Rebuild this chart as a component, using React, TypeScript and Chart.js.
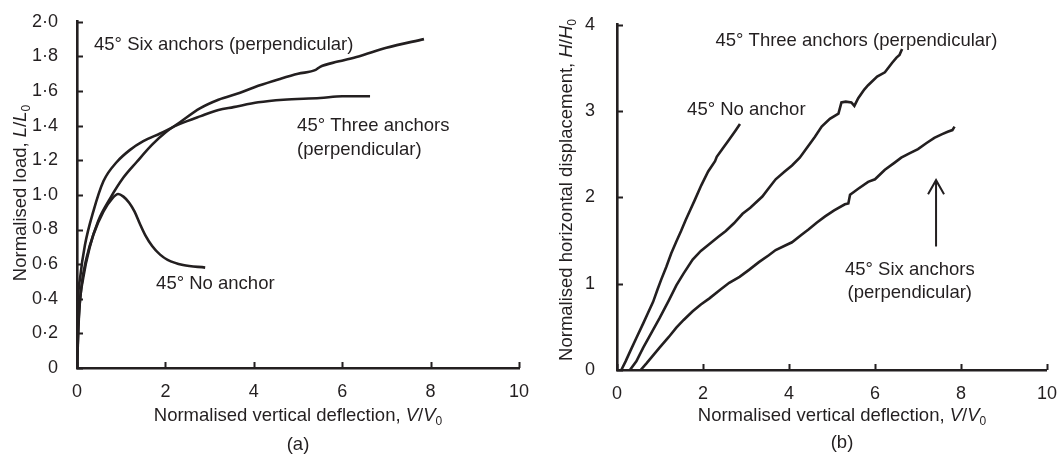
import React, { useEffect, useRef } from 'react';
import { Chart, registerables } from 'chart.js';

Chart.register(...registerables);

const INK = '#231f20';
const FONT = "'Liberation Sans', Arial, Helvetica, sans-serif";
const LABEL_SIZE = 18.5;
const TICK_SIZE = 18;

// ---------- Panel (a): normalised load vs normalised vertical deflection ----------
const loadXTicks = [0, 2, 4, 6, 8, 10];
const loadYTicks = [0, 0.2, 0.4, 0.6, 0.8, 1.0, 1.2, 1.4, 1.6, 1.8, 2.0];

const noAnchorLoad: [number, number][] = [
  [0, 0], [0.03, 0.24], [0.1, 0.47], [0.22, 0.64], [0.37, 0.77], [0.6, 0.905],
  [0.8, 0.98], [0.93, 1.005], [1.05, 0.99], [1.18, 0.955], [1.3, 0.905], [1.42, 0.835],
  [1.55, 0.765], [1.7, 0.705], [1.88, 0.655], [2.05, 0.625], [2.4, 0.595], [2.9, 0.58],
];
const threeAnchorsLoad: [number, number][] = [
  [0, 0], [0.01, 0.27], [0.07, 0.52], [0.18, 0.71], [0.37, 0.905], [0.6, 1.08],
  [0.9, 1.19], [1.2, 1.26], [1.5, 1.31], [1.88, 1.355], [2.33, 1.41], [2.8, 1.455],
  [3.2, 1.49], [3.54, 1.507], [4.1, 1.535], [4.67, 1.55], [5.5, 1.56], [6.0, 1.57], [6.63, 1.57],
];
const sixAnchorsLoad: [number, number][] = [
  [0, 0], [0.05, 0.33], [0.14, 0.52], [0.29, 0.7], [0.48, 0.85], [0.75, 0.98],
  [1.05, 1.1], [1.35, 1.19], [1.7, 1.29], [2.0, 1.36], [2.33, 1.42], [2.78, 1.5],
  [3.2, 1.55], [3.69, 1.59], [4.1, 1.63], [4.59, 1.67], [5.0, 1.7], [5.4, 1.722],
  [5.5, 1.74], [5.9, 1.77], [6.37, 1.8], [7.0, 1.85], [7.85, 1.9],
];

// ---------- Panel (b): normalised horizontal displacement vs vertical deflection ----------
const dispXTicks = [0, 2, 4, 6, 8, 10];
const dispYTicks = [0, 1, 2, 3, 4];

const noAnchorDisp: [number, number][] = [
  [0.1, 0], [0.2, 0.1], [0.3, 0.21], [0.45, 0.37], [0.61, 0.54], [0.72, 0.66],
  [0.84, 0.79], [0.94, 0.93], [1.03, 1.05], [1.15, 1.2], [1.26, 1.35], [1.38, 1.49],
  [1.49, 1.61], [1.6, 1.74], [1.69, 1.84], [1.8, 1.96], [1.96, 2.14], [2.12, 2.3],
  [2.28, 2.42], [2.32, 2.47], [2.45, 2.56], [2.61, 2.67], [2.75, 2.77], [2.86, 2.85],
];
const threeAnchorsDisp: [number, number][] = [
  [0.3, 0], [0.45, 0.1], [0.61, 0.26], [0.8, 0.43], [0.99, 0.6], [1.2, 0.8],
  [1.38, 0.98], [1.55, 1.12], [1.76, 1.28], [1.95, 1.38], [2.15, 1.46], [2.35, 1.54],
  [2.53, 1.61], [2.72, 1.7], [2.92, 1.81], [3.1, 1.88], [3.38, 2.01], [3.55, 2.12],
  [3.69, 2.21], [3.9, 2.3], [4.07, 2.37], [4.25, 2.46], [4.38, 2.55], [4.6, 2.7],
  [4.76, 2.82], [4.95, 2.91], [5.15, 2.97], [5.22, 3.1], [5.32, 3.11], [5.45, 3.1],
  [5.52, 3.06], [5.61, 3.15], [5.75, 3.25], [5.84, 3.3], [6.05, 3.4], [6.23, 3.45],
  [6.4, 3.56], [6.5, 3.62], [6.57, 3.65], [6.63, 3.72],
];
const sixAnchorsDisp: [number, number][] = [
  [0.55, 0], [0.69, 0.08], [0.84, 0.17], [0.99, 0.26], [1.2, 0.38], [1.38, 0.49],
  [1.55, 0.58], [1.76, 0.68], [1.95, 0.76], [2.15, 0.83], [2.4, 0.93], [2.61, 1.01],
  [2.85, 1.08], [3.07, 1.16], [3.3, 1.25], [3.53, 1.33], [3.69, 1.39], [3.9, 1.44],
  [4.07, 1.48], [4.3, 1.57], [4.46, 1.63], [4.65, 1.71], [4.84, 1.78], [5.05, 1.85],
  [5.3, 1.92], [5.38, 1.93], [5.42, 2.03], [5.5, 2.06], [5.61, 2.1], [5.84, 2.18],
  [6.0, 2.21], [6.23, 2.32], [6.45, 2.4], [6.61, 2.46], [6.8, 2.51], [7.0, 2.56],
  [7.2, 2.63], [7.38, 2.69], [7.55, 2.73], [7.69, 2.76], [7.8, 2.78], [7.85, 2.82],
];

type Part = { t: string; i?: boolean; sub?: boolean };
type Label = { x: number; y: number; lines: string[]; align: 'left' | 'center'; gap?: number };
type Arrow = { x: number; y0: number; y1: number };

interface PanelSpec {
  left: number;
  width: number;
  area: { left: number; top: number; right: number; bottom: number };
  xTicks: number[];
  yTicks: number[];
  yMax: number;
  fmtY: (v: number) => string;
  yTickPad: number;
  series: [number, number][][];
  smooth: boolean;
  labels: Label[];
  arrows: Arrow[];
  xTitle: Part[];
  yTitle: Part[];
  xTitlePos: [number, number];
  yTitlePos: [number, number];
  caption: string;
  captionPos: [number, number];
}

function drawRich(ctx: CanvasRenderingContext2D, parts: Part[], cx: number, cy: number, size: number, rotate: boolean) {
  ctx.save();
  ctx.translate(cx, cy);
  if (rotate) ctx.rotate(-Math.PI / 2);
  const fontFor = (p: Part) => `${p.i ? 'italic ' : ''}${p.sub ? Math.round(size * 0.66) : size}px ${FONT}`;
  let total = 0;
  const widths = parts.map((p) => {
    ctx.font = fontFor(p);
    const w = ctx.measureText(p.t).width;
    total += w;
    return w;
  });
  let x = -total / 2;
  ctx.textBaseline = 'middle';
  ctx.textAlign = 'left';
  ctx.fillStyle = INK;
  parts.forEach((p, k) => {
    ctx.font = fontFor(p);
    ctx.fillText(p.t, x, p.sub ? size * 0.32 : 0);
    x += widths[k];
  });
  ctx.restore();
}

function makePlugin(spec: PanelSpec) {
  return {
    id: 'panelDecor',
    afterDraw(chart: any) {
      const { ctx, chartArea } = chart;
      const xs = chart.scales.x;
      const ys = chart.scales.y;
      ctx.save();
      ctx.strokeStyle = INK;
      ctx.lineWidth = 2;
      ctx.beginPath();
      xs.ticks.forEach((t: any) => {
        const px = Math.round(xs.getPixelForValue(t.value)) + 0.5;
        ctx.moveTo(px, chartArea.bottom);
        ctx.lineTo(px, chartArea.bottom - 6);
      });
      ys.ticks.forEach((t: any) => {
        const py = Math.round(ys.getPixelForValue(t.value)) + 0.5;
        ctx.moveTo(chartArea.left, py);
        ctx.lineTo(chartArea.left + 6, py);
      });
      ctx.stroke();

      // annotations
      ctx.fillStyle = INK;
      ctx.font = `${LABEL_SIZE}px ${FONT}`;
      ctx.textBaseline = 'middle';
      spec.labels.forEach((l) => {
        ctx.textAlign = l.align;
        const px = xs.getPixelForValue(l.x);
        const py = ys.getPixelForValue(l.y);
        l.lines.forEach((s, k) => ctx.fillText(s, px, py + k * (l.gap || 24)));
      });

      // arrows
      ctx.lineWidth = 2;
      spec.arrows.forEach((a) => {
        const px = xs.getPixelForValue(a.x);
        const p0 = ys.getPixelForValue(a.y0);
        const p1 = ys.getPixelForValue(a.y1);
        ctx.beginPath();
        ctx.moveTo(px, p0);
        ctx.lineTo(px, p1);
        ctx.moveTo(px - 8, p1 + 14);
        ctx.lineTo(px, p1);
        ctx.lineTo(px + 8, p1 + 14);
        ctx.stroke();
      });

      drawRich(ctx, spec.xTitle, spec.xTitlePos[0], spec.xTitlePos[1], LABEL_SIZE, false);
      drawRich(ctx, spec.yTitle, spec.yTitlePos[0], spec.yTitlePos[1], LABEL_SIZE, true);
      drawRich(ctx, [{ t: spec.caption }], spec.captionPos[0], spec.captionPos[1], LABEL_SIZE, false);
      ctx.restore();
    },
  };
}

function Panel({ spec }: { spec: PanelSpec }) {
  const ref = useRef<HTMLCanvasElement>(null);
  useEffect(() => {
    const canvas = ref.current!;
    const H = 459;
    const { area } = spec;
    const chart = new Chart(canvas, {
      type: 'line',
      data: {
        datasets: spec.series.map((s) => ({
          data: s.map(([x, y]) => ({ x, y })),
          borderColor: INK,
          borderWidth: 2.6,
          pointRadius: 0,
          fill: false,
          tension: spec.smooth ? 0.4 : 0,
          cubicInterpolationMode: spec.smooth ? ('monotone' as const) : ('default' as const),
        })),
      },
      options: {
        responsive: false,
        animation: false,
        events: [],
        layout: { padding: { left: 0, top: area.top, right: spec.width - area.right, bottom: 0 } },
        plugins: { legend: { display: false }, tooltip: { enabled: false }, title: { display: false } },
        scales: {
          x: {
            type: 'linear',
            min: 0,
            max: 10,
            afterBuildTicks: (s: any) => {
              s.ticks = spec.xTicks.map((v) => ({ value: v }));
            },
            afterFit: (s: any) => {
              s.height = H - area.bottom;
            },
            grid: { display: false },
            border: { display: true, color: INK, width: 2.6 },
            ticks: {
              color: INK,
              font: { family: FONT, size: TICK_SIZE },
              padding: 5,
              maxRotation: 0,
              autoSkip: false,
              callback: (v: any) => String(v),
            },
          },
          y: {
            type: 'linear',
            min: 0,
            max: spec.yMax,
            afterBuildTicks: (s: any) => {
              s.ticks = spec.yTicks.map((v) => ({ value: v }));
            },
            afterFit: (s: any) => {
              s.width = area.left;
            },
            grid: { display: false },
            border: { display: true, color: INK, width: 2.6 },
            ticks: {
              color: INK,
              font: { family: FONT, size: TICK_SIZE },
              padding: spec.yTickPad,
              autoSkip: false,
              callback: (v: any) => spec.fmtY(Number(v)),
            },
          },
        },
      },
      plugins: [makePlugin(spec)],
    } as any);
    return () => chart.destroy();
  }, [spec]);
  return (
    <canvas
      ref={ref}
      width={spec.width}
      height={459}
      style={{ position: 'absolute', left: spec.left, top: 0, width: spec.width, height: 459 }}
    />
  );
}

const fmtLoad = (v: number) => (v === 0 ? '0' : v.toFixed(1).replace('.', '\u00b7'));
const fmtInt = (v: number) => String(Math.round(v));

const panelA: PanelSpec = {
  left: 0,
  width: 540,
  area: { left: 77, top: 19, right: 519, bottom: 368 },
  xTicks: loadXTicks,
  yTicks: loadYTicks,
  yMax: 2,
  fmtY: fmtLoad,
  yTickPad: 11,
  series: [noAnchorLoad, threeAnchorsLoad, sixAnchorsLoad],
  smooth: true,
  labels: [
    { x: 0.385, y: 1.868, lines: ['45° Six anchors (perpendicular)'], align: 'left' },
    { x: 4.98, y: 1.4, lines: ['45° Three anchors', '(perpendicular)'], align: 'left', gap: 24 },
    { x: 1.79, y: 0.487, lines: ['45° No anchor'], align: 'left' },
  ],
  arrows: [],
  xTitle: [{ t: 'Normalised vertical deflection, ' }, { t: 'V', i: true }, { t: '/' }, { t: 'V', i: true }, { t: '0', sub: true }],
  yTitle: [{ t: 'Normalised load, ' }, { t: 'L', i: true }, { t: '/' }, { t: 'L', i: true }, { t: '0', sub: true }],
  xTitlePos: [298, 416],
  yTitlePos: [21, 193],
  caption: '(a)',
  captionPos: [298, 445],
};

const panelB: PanelSpec = {
  left: 540,
  width: 522,
  area: { left: 77, top: 15, right: 510, bottom: 370 },
  xTicks: dispXTicks,
  yTicks: dispYTicks,
  yMax: 4,
  fmtY: fmtInt,
  yTickPad: 14,
  series: [noAnchorDisp, threeAnchorsDisp, sixAnchorsDisp],
  smooth: false,
  labels: [
    { x: 2.29, y: 3.81, lines: ['45° Three anchors (perpendicular)'], align: 'left' },
    { x: 1.63, y: 3.01, lines: ['45° No anchor'], align: 'left' },
    { x: 6.81, y: 1.16, lines: ['45° Six anchors', '(perpendicular)'], align: 'center', gap: 23 },
  ],
  arrows: [{ x: 7.42, y0: 1.43, y1: 2.2 }],
  xTitle: [{ t: 'Normalised vertical deflection, ' }, { t: 'V', i: true }, { t: '/' }, { t: 'V', i: true }, { t: '0', sub: true }],
  yTitle: [{ t: 'Normalised horizontal displacement, ' }, { t: 'H', i: true }, { t: '/' }, { t: 'H', i: true }, { t: '0', sub: true }],
  xTitlePos: [302, 416],
  yTitlePos: [27, 190],
  caption: '(b)',
  captionPos: [302, 443],
};

export default function App() {
  return (
    <div style={{ position: 'fixed', left: 0, top: 0, width: 1062, height: 459, background: '#ffffff' }}>
      <Panel spec={panelA} />
      <Panel spec={panelB} />
    </div>
  );
}
